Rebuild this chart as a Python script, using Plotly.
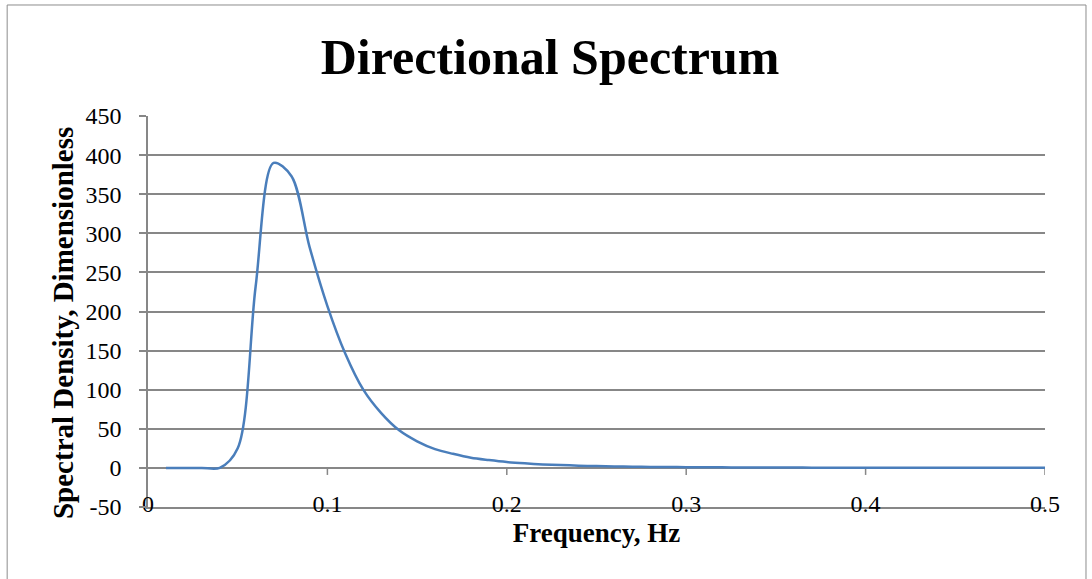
import plotly.graph_objects as go

# Spectral density vs frequency
freq_hz = [0.01, 0.02, 0.03, 0.04, 0.05, 0.06, 0.07, 0.08, 0.09, 0.10,
           0.11, 0.12, 0.13, 0.14, 0.15, 0.16, 0.17, 0.18, 0.19, 0.20,
           0.21, 0.22, 0.23, 0.24, 0.25, 0.26, 0.27, 0.28, 0.29, 0.30,
           0.31, 0.32, 0.33, 0.34, 0.35, 0.36, 0.37, 0.38, 0.39, 0.40,
           0.41, 0.42, 0.43, 0.44, 0.45, 0.46, 0.47, 0.48, 0.49, 0.50]
spectral_density = [0, 0, 0, 0, 25, 232, 390, 373, 283, 207,
                    146, 100, 70, 48, 34, 24, 18, 13, 10, 7.5,
                    5.8, 4.5, 3.6, 2.9, 2.3, 1.9, 1.6, 1.3, 1.1, 0.95,
                    0.8, 0.7, 0.6, 0.5, 0.45, 0.4, 0.35, 0.3, 0.27, 0.24,
                    0.22, 0.2, 0.18, 0.16, 0.15, 0.14, 0.13, 0.12, 0.11, 0.1]

x_ticks = [0, 0.1, 0.2, 0.3, 0.4, 0.5]
x_tick_text = ["0", "0.1", "0.2", "0.3", "0.4", "0.5"]
y_ticks = [-50, 0, 50, 100, 150, 200, 250, 300, 350, 400, 450]
y_tick_text = ["-50", "0", "50", "100", "150", "200", "250", "300", "350", "400", "450"]

SERIF = "Liberation Serif"
GRID = "#878787"
TICK_DEPTH = 9  # in y-axis units, about 7 px

fig = go.Figure()

# tick marks hanging below the zero line of the frequency axis,
# drawn as one-sided error bars from y = 0
n_marks = len(x_ticks) - 1
fig.add_trace(go.Scatter(
    x=x_ticks[1:], y=[0] * n_marks, mode="markers",
    marker=dict(size=1, color="rgba(0,0,0,0)"),
    error_y=dict(type="data", symmetric=False, array=[0] * n_marks,
                 arrayminus=[TICK_DEPTH] * n_marks,
                 color=GRID, thickness=1.5, width=0),
    showlegend=False, hoverinfo="skip", cliponaxis=False,
))

fig.add_trace(go.Scatter(
    x=freq_hz, y=spectral_density, mode="lines",
    line=dict(color="#4a7ebb", width=2.5, shape="spline", smoothing=0.9),
    showlegend=False, hoverinfo="x+y",
))

# light frame around the whole chart
fig.add_shape(type="rect", xref="paper", yref="paper",
              x0=-0.157, x1=1.0457, y0=-0.25, y1=1.2839,
              line=dict(color="#8c8c8c", width=1), layer="below")

fig.update_layout(
    width=1092, height=579,
    margin=dict(l=148, r=47, t=116, b=72),
    paper_bgcolor="white", plot_bgcolor="white",
    font=dict(family=SERIF, color="black"),
    title=dict(text="<b>Directional Spectrum</b>", font=dict(family=SERIF, size=50),
               xref="container", yref="container", x=0.5037, y=0.902,
               xanchor="center", yanchor="middle"),
    xaxis=dict(range=[0, 0.5], tickvals=x_ticks, ticktext=x_tick_text,
               showgrid=False, zeroline=False, showline=True, linecolor=GRID,
               linewidth=1.5, ticks="", tickfont=dict(size=24),
               ticklabelstandoff=-26,
               title=dict(text="<b>Frequency, Hz</b>", font=dict(size=27), standoff=8)),
    yaxis=dict(range=[-50, 450], tickvals=y_ticks, ticktext=y_tick_text,
               showgrid=True, gridcolor=GRID,
               gridwidth=1.5, zeroline=True, zerolinecolor=GRID, zerolinewidth=1.5,
               showline=True, linecolor=GRID, linewidth=1.5,
               ticks="outside", ticklen=7, tickwidth=1.5, tickcolor=GRID,
               tickfont=dict(size=24), ticklabelstandoff=13),
    annotations=[dict(text="<b>Spectral Density, Dimensionless</b>", textangle=-90,
                      xref="paper", yref="paper", x=-0.095, y=0.47,
                      xanchor="center", yanchor="middle", showarrow=False,
                      font=dict(family=SERIF, size=29))],
)

fig.write_html("out.html")
